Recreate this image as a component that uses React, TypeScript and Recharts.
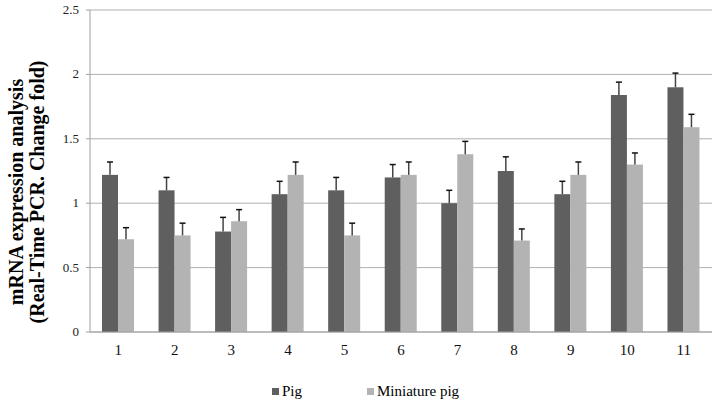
import { BarChart, Bar, XAxis, YAxis, CartesianGrid, Legend } from "recharts";

const categories = ["1", "2", "3", "4", "5", "6", "7", "8", "9", "10", "11"];
const pigValues = [1.22, 1.1, 0.78, 1.07, 1.1, 1.2, 1.0, 1.25, 1.07, 1.84, 1.9];
const pigErrors = [0.1, 0.1, 0.11, 0.1, 0.1, 0.1, 0.1, 0.11, 0.1, 0.1, 0.11];
const miniValues = [0.72, 0.75, 0.86, 1.22, 0.75, 1.22, 1.38, 0.71, 1.22, 1.3, 1.59];
const miniErrors = [0.09, 0.095, 0.09, 0.1, 0.095, 0.1, 0.1, 0.09, 0.1, 0.09, 0.1];
const yTicks = [0, 0.5, 1, 1.5, 2, 2.5];
const boundaryTicks = [0, 1, 2, 3, 4, 5, 6, 7, 8, 9, 10, 11];

const PIG = "#5f5f5f";
const MINI = "#b3b3b3";
const FONT = "Liberation Serif";

const data = categories.map((c, i) => ({
  name: c,
  pig: pigValues[i],
  pigErr: pigErrors[i],
  mini: miniValues[i],
  miniErr: miniErrors[i],
}));

// bar + upward-only whisker, whisker length from the bar's own px/unit
function ErrBarShape(props: any) {
  const { x, y, width, height, fill, payload, valueKey, errKey } = props;
  const v = payload[valueKey];
  const pxPerUnit = v ? height / v : 0;
  const top = y - payload[errKey] * pxPerUnit;
  const cx = x + width / 2;
  return (
    <g>
      <rect x={x} y={y} width={width} height={height} fill={fill} />
      <line x1={cx} x2={cx} y1={y} y2={top} stroke="#444" strokeWidth={1.5} />
      <line x1={cx - 3} x2={cx + 3} y1={top} y2={top} stroke="#111" strokeWidth={1.5} />
    </g>
  );
}

function XTick({ x, y, payload }: any) {
  return (
    <text x={x} y={y + 9} textAnchor="middle" fontFamily={FONT} fontSize={15} fill="#111">
      {payload.value}
    </text>
  );
}

function YTick({ x, y, payload }: any) {
  return (
    <text x={x} y={y + 4} textAnchor="end" fontFamily={FONT} fontSize={13} fill="#222">
      {payload.value}
    </text>
  );
}

function YLabel() {
  return (
    <g fontFamily={FONT} fontWeight="bold" fontSize={20} fill="#000" textAnchor="middle">
      <text transform="translate(23,192) rotate(-90)">mRNA expression analysis</text>
      <text transform="translate(44,192) rotate(-90)">(Real-Time PCR. Change fold)</text>
    </g>
  );
}

function LegendBox() {
  const item = (color: string, label: string, left: number) => (
    <span style={{ position: "absolute", left, top: 11, display: "flex", alignItems: "center" }}>
      <span style={{ width: 7, height: 7, background: color, marginRight: 3 }} />
      <span style={{ fontFamily: FONT, fontSize: 15, color: "#000", lineHeight: "16px" }}>{label}</span>
    </span>
  );
  return (
    <div style={{ position: "relative", width: 717, height: 32 }}>
      {item(PIG, "Pig", 272)}
      {item(MINI, "Miniature pig", 367)}
    </div>
  );
}

export default function App() {
  return (
    <div style={{ position: "absolute", left: 0, top: 0, width: 717, height: 404, background: "#fff", fontFamily: FONT }}>
      <BarChart
        width={717}
        height={404}
        data={data}
        margin={{ top: 10, right: 5, left: 0, bottom: 0 }}
        barGap={0}
        barSize={16}
      >
        <CartesianGrid vertical={false} stroke="#b0b0b0" />
        <XAxis
          xAxisId="grid"
          type="number"
          domain={[0, 11]}
          ticks={boundaryTicks}
          tick={false}
          axisLine={false}
          tickLine={{ stroke: "#a0a0a0" }}
          tickSize={5}
          height={0}
        />
        <XAxis
          dataKey="name"
          height={40}
          axisLine={{ stroke: "#a0a0a0" }}
          tickLine={false}
          tickSize={0}
          tickMargin={14}
          tick={<XTick />}
        />
        <YAxis
          width={90}
          domain={[0, 2.5]}
          ticks={yTicks}
          axisLine={{ stroke: "#a0a0a0" }}
          tickLine={{ stroke: "#a0a0a0" }}
          tickSize={4}
          tickMargin={7}
          tick={<YTick />}
          label={{ content: <YLabel /> }}
        />
        <Legend verticalAlign="bottom" height={32} wrapperStyle={{ left: 0, width: 717 }} content={<LegendBox />} />
        <Bar
          dataKey="pig"
          name="Pig"
          fill={PIG}
          isAnimationActive={false}
          shape={(p: any) => <ErrBarShape {...p} valueKey="pig" errKey="pigErr" />}
        />
        <Bar
          dataKey="mini"
          name="Miniature pig"
          fill={MINI}
          isAnimationActive={false}
          shape={(p: any) => <ErrBarShape {...p} valueKey="mini" errKey="miniErr" />}
        />
      </BarChart>
    </div>
  );
}
